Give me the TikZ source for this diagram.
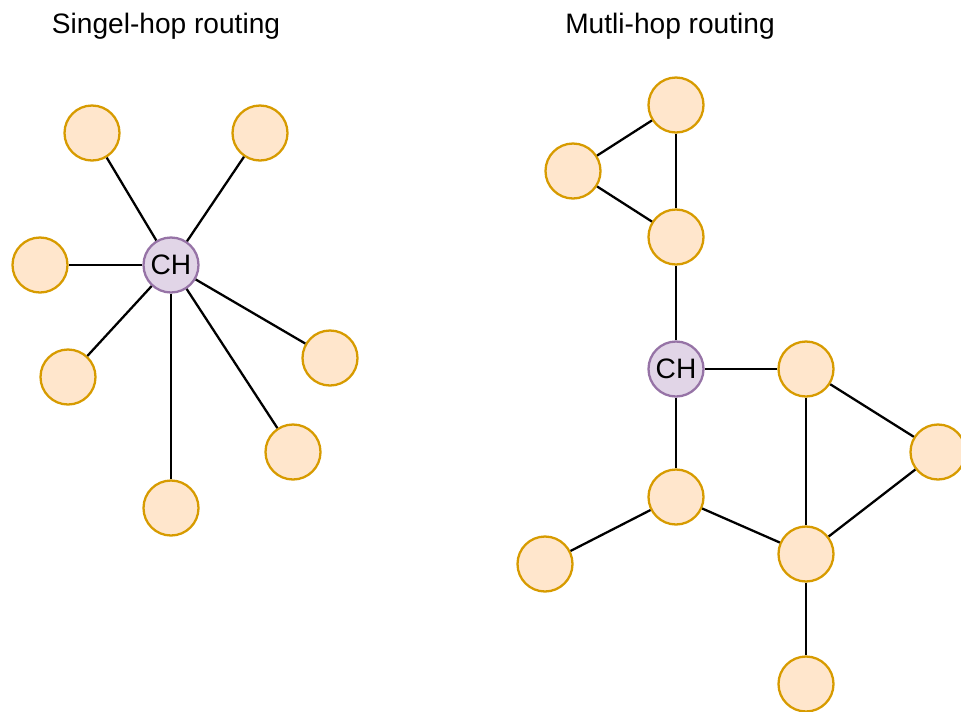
\documentclass[tikz,border=0pt]{standalone}
\usepackage{fontspec}
\setmainfont{Liberation Sans}
\definecolor{nodefill}{HTML}{FFE6CC}
\definecolor{nodeline}{HTML}{D79B00}
\definecolor{headfill}{HTML}{E1D5E7}
\definecolor{headline}{HTML}{9673A6}
\tikzset{
    sensor/.style={circle, draw=nodeline, fill=nodefill, line width=1.3pt, minimum size=1.1cm, inner sep=0pt},
    head/.style={circle, draw=headline, fill=headfill, line width=1.3pt, minimum size=1.1cm, inner sep=0pt, font=\fontsize{16}{19}\selectfont},
    link/.style={line width=1.3pt},
    title/.style={font=\fontsize{16}{19}\selectfont}
}
\begin{document}
\begin{tikzpicture}
                \useasboundingbox (0, 0) rectangle (19.22, -14.22);

                \node[title] (single) at (3.32, -0.52) {Singel-hop routing};
                \node[title] (multi) at (13.4, -0.52) {Mutli-hop routing};

                % single hop
                \node[head] (ch1) at (3.42, -5.3) {CH};
                \node[sensor] (s1) at (1.84, -2.66) {};
                \node[sensor] (s2) at (5.2, -2.66) {};
                \node[sensor] (s3) at (0.8, -5.3) {};
                \node[sensor] (s4) at (1.36, -7.54) {};
                \node[sensor] (s5) at (6.6, -7.16) {};
                \node[sensor] (s6) at (5.86, -9.04) {};
                \node[sensor] (s7) at (3.42, -10.16) {};

                \foreach \n in {s1, s2, s3, s4, s5, s6, s7}
                    \draw[link] (ch1) -- (\n);

                % multi hop
                \node[head] (ch2) at (13.52, -7.38) {CH};
                \node[sensor] (m1) at (13.52, -2.1) {};
                \node[sensor] (m2) at (11.46, -3.42) {};
                \node[sensor] (m3) at (13.52, -4.74) {};
                \node[sensor] (m4) at (16.12, -7.38) {};
                \node[sensor] (m5) at (18.76, -9.04) {};
                \node[sensor] (m6) at (13.52, -9.94) {};
                \node[sensor] (m7) at (16.12, -11.08) {};
                \node[sensor] (m8) at (10.9, -11.28) {};
                \node[sensor] (m9) at (16.12, -13.68) {};

                \draw[link] (m2) -- (m1);
                \draw[link] (m2) -- (m3);
                \draw[link] (m1) -- (m3);
                \draw[link] (m3) -- (ch2);
                \draw[link] (ch2) -- (m4);
                \draw[link] (ch2) -- (m6);
                \draw[link] (m4) -- (m5);
                \draw[link] (m4) -- (m7);
                \draw[link] (m5) -- (m7);
                \draw[link] (m6) -- (m7);
                \draw[link] (m6) -- (m8);
                \draw[link] (m7) -- (m9);

            \end{tikzpicture}
\end{document}
